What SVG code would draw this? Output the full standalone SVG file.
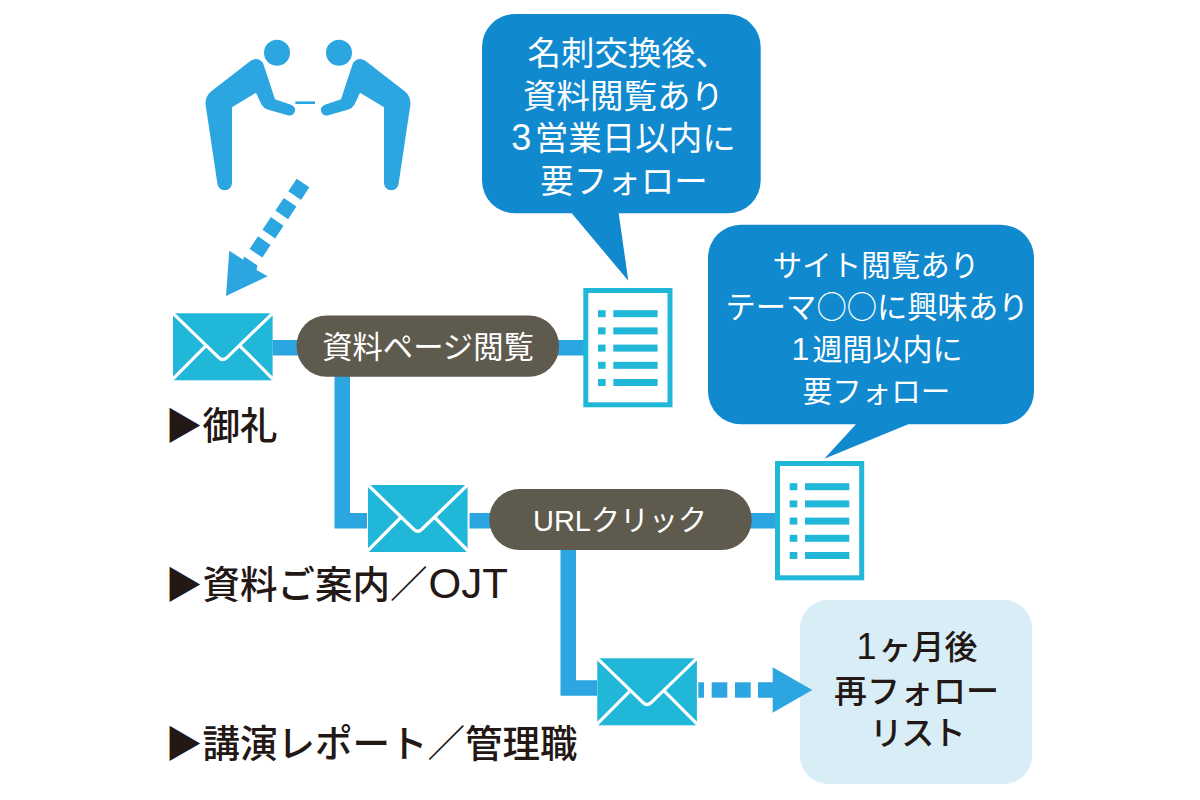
<svg xmlns="http://www.w3.org/2000/svg" xmlns:xlink="http://www.w3.org/1999/xlink" width="1200" height="800" viewBox="0 0 1200 800">
<style>
text{font-family:"Liberation Sans","Noto Sans CJK JP",sans-serif;}
.cjk{font-family:"Noto Sans CJK JP",sans-serif;}
.blue{fill:#2ca6e0;}
.env{fill:#21b7d8;}
.envl{fill:none;stroke:#fff;stroke-width:3.2;stroke-linejoin:round;}
.pill{fill:#5f5a4e;}
.call{fill:#1189cf;}
.w{fill:#fff;text-anchor:middle;font-weight:400;}
.k{fill:#231815;font-weight:500;}
.km{fill:#231815;text-anchor:middle;font-weight:500;}
.d{fill:#21b7d8;}
</style>
<defs>
<g id="envelope">
<rect class="env" width="99.6" height="67"/>
<path class="envl" d="M-1-1L46 44.5Q49.8 48 53.6 44.5L100.6-1M32.8 32.5L-1 66.5M66.8 32.5L100.6 66.5"/>
</g>
<g id="doc">
<rect x="2.5" y="2.5" width="84.2" height="114.3" fill="#fff" stroke="#21b7d8" stroke-width="5"/>
<rect class="d" x="14.7" y="22.2" width="7.6" height="7"/><rect class="d" x="30" y="22.2" width="44.3" height="7"/>
<rect class="d" x="14.7" y="39.4" width="7.6" height="7"/><rect class="d" x="30" y="39.4" width="44.3" height="7"/>
<rect class="d" x="14.7" y="56.6" width="7.6" height="7"/><rect class="d" x="30" y="56.6" width="44.3" height="7"/>
<rect class="d" x="14.7" y="73.8" width="7.6" height="7"/><rect class="d" x="30" y="73.8" width="44.3" height="7"/>
<rect class="d" x="14.7" y="91" width="7.6" height="7"/><rect class="d" x="30" y="91" width="44.3" height="7"/>
</g>
<g id="person">
<circle class="blue" cx="277" cy="52.7" r="13"/>
<path class="blue" d="M251 60.500Q258 56.500 263 63L275 99.300L291 104.800Q296 107 295 111Q293.500 116 288.500 115.500L267.500 109.500Q263.500 108 261.500 104.500L256 92.700L232 107.300V183Q231.500 190 224.700 190.300Q218 190 217.300 183L205.500 104Q205.500 96 211 91.500Z"/>
</g>
</defs>
<g id="follow-list">
<rect x="800" y="600" width="232" height="184" rx="28" ry="28" fill="#d8edf5"/>
<text class="km" font-size="33" x="917" y="659"><tspan font-size="36" letter-spacing="2">1</tspan>ヶ月後</text>
<text class="km" font-size="33" x="916.500" y="703">再フォロー</text>
<text class="km" font-size="33" x="917" y="745" letter-spacing="-1.500">リスト</text>
</g>
<g id="connectors">
<rect class="blue" x="272.500" y="340" width="30" height="15.500"/>
<rect class="blue" x="555" y="340" width="32" height="15.500"/>
<path class="blue" d="M334.500 375H350V513H367V528.500H334.500Z"/>
<rect class="blue" x="469.500" y="513" width="25" height="15.500"/>
<rect class="blue" x="748" y="513" width="30" height="15.500"/>
<path class="blue" d="M560.500 548H576V680.300H597V695.700H560.500Z"/>
<g id="dash-arrow-1">
<polygon class="blue" points="296.700,178.700 309.300,187.300 301,200 288.300,191.300"/>
<polygon class="blue" points="283.800,197.900 296.400,206.500 288.100,219.200 275.400,210.500"/>
<polygon class="blue" points="270.900,217.100 283.500,225.700 275.200,238.400 262.500,229.700"/>
<polygon class="blue" points="258,236.300 270.600,244.900 262.300,257.600 249.600,248.900"/>
<polygon class="blue" points="229.300,250.700 243.300,259.800 244,256.500 257.500,265.500 256.500,270 267.700,276.300 226,296"/>
</g>
<g id="dash-arrow-2">
<rect class="blue" x="698.300" y="682.300" width="5.700" height="15.400"/>
<rect class="blue" x="711.700" y="682.300" width="15.600" height="15.400"/>
<rect class="blue" x="735" y="682.300" width="15.700" height="15.400"/>
<polygon class="blue" points="758,682.300 772.700,682.300 772.700,667.300 812.300,690 772.700,712.700 772.700,697.700 758,697.700"/>
</g>
</g>
<g id="bowing-people">
<use xlink:href="#person"/>
<use xlink:href="#person" transform="matrix(-1 0 0 1 616 0)"/>
<rect class="blue" x="295.300" y="101.400" width="19.700" height="2.600"/>
</g>
<g id="callout-1">
<path class="call" d="M515 14H727.700A33 33 0 0 1 760.700 47V180.300A33 33 0 0 1 727.700 213.300H618.700L628.300 280.700L571.700 213.300H515A33 33 0 0 1 482 180.300V47A33 33 0 0 1 515 14Z"/>
<text class="w" font-size="33.500" x="628" y="65">名刺交換後、</text>
<text class="w" font-size="33.500" x="623.500" y="107.500">資料閲覧あり</text>
<text class="w" font-size="33.500" x="623.500" y="150"><tspan font-size="36" letter-spacing="3.500">3</tspan>営業日以内に</text>
<text class="w" font-size="33.500" x="624" y="192.500">要フォロー</text>
</g>
<g id="callout-2">
<path class="call" d="M741 224.700H1001A33 33 0 0 1 1034 257.700V391.300A33 33 0 0 1 1001 424.300H908.300L824.300 458.700L856 424.300H741A33 33 0 0 1 708 391.300V257.700A33 33 0 0 1 741 224.700Z"/>
<text class="w" font-size="29.500" x="876" y="276">サイト閲覧あり</text>
<text class="w" font-size="30.300" x="877" y="318">テーマ<tspan class="cjk">○○</tspan>に興味あり</text>
<text class="w" font-size="30" x="877" y="360"><tspan font-size="32" letter-spacing="3">1</tspan>週間以内に</text>
<text class="w" font-size="29.500" x="876.500" y="402">要フォロー</text>
</g>
<g id="mail-1"><use xlink:href="#envelope" x="173" y="313.300"/></g>
<g id="pill-1">
<rect class="pill" x="296.600" y="315.500" width="262.400" height="61.200" rx="30" ry="30"/>
<text class="w" font-size="30.300" x="428" y="357.500">資料ページ閲覧</text>
</g>
<g id="doc-1"><use xlink:href="#doc" x="583.300" y="288"/></g>
<g id="label-1"><text class="k" font-size="37.500" x="165" y="438.500"><tspan class="cjk">▶</tspan>御礼</text></g>
<g id="mail-2"><use xlink:href="#envelope" x="368" y="485"/></g>
<g id="pill-2">
<rect class="pill" x="489.300" y="489" width="262.400" height="61" rx="30" ry="30"/>
<text class="w" font-size="29" x="620" y="531">URLクリック</text>
</g>
<g id="doc-2"><use xlink:href="#doc" x="775" y="461"/></g>
<g id="label-2"><text class="k" font-size="37.500" x="165" y="598"><tspan class="cjk">▶</tspan>資料ご案内／<tspan font-size="42" dx="1">OJT</tspan></text></g>
<g id="mail-3"><use xlink:href="#envelope" x="597.300" y="658.300"/></g>
<g id="label-3"><text class="k" font-size="37.500" x="165" y="757"><tspan class="cjk">▶</tspan>講演レポート／管理職</text></g>
</svg>
